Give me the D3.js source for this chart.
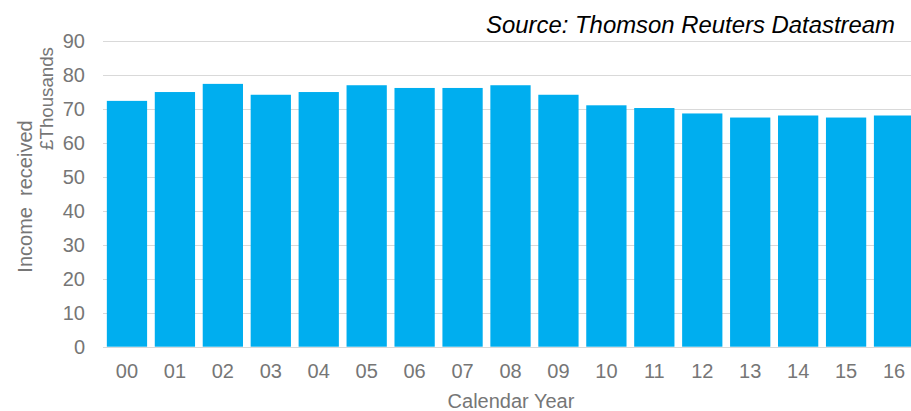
<!DOCTYPE html>
<html>
<head>
<meta charset="utf-8">
<script src="https://cdn.jsdelivr.net/npm/d3@7"></script>
<style>
  html, body { margin: 0; padding: 0; background: #fff; }
  svg { display: block; }
  text { font-family: "Liberation Sans", Arial, sans-serif; }
</style>
</head>
<body>
<svg id="chart" width="911" height="411"></svg>
<script>
// Annual income received (£ thousands), calendar years 2000–2016
const years = ["00","01","02","03","04","05","06","07","08","09","10","11","12","13","14","15","16"];
const income = [72.3, 74.9, 77.3, 74.1, 74.9, 76.9, 76.1, 76.1, 76.9, 74.1, 71.0, 70.2, 68.6, 67.4, 68.0, 67.4, 68.0];
const yTicks = [0, 10, 20, 30, 40, 50, 60, 70, 80, 90];

const svg = d3.select("#chart");
const margin = { left: 103, right: -7, top: 40.7, bottom: 64.3 };
const W = 911, H = 411;

const x = d3.scaleBand()
  .domain(years)
  .range([margin.left, W - margin.right])
  .paddingInner(0.16)
  .paddingOuter(0.08);

const y = d3.scaleLinear()
  .domain([0, 90])
  .range([H - margin.bottom, margin.top]);

// horizontal gridlines
svg.append("g")
  .selectAll("line")
  .data(yTicks)
  .join("line")
  .attr("x1", margin.left)
  .attr("x2", W)
  .attr("y1", d => Math.round(y(d)) + 0.5)
  .attr("y2", d => Math.round(y(d)) + 0.5)
  .attr("stroke", "#d9d9d9")
  .attr("stroke-width", 1);

// bars
svg.append("g")
  .selectAll("rect")
  .data(years.map((k, i) => ({ k, v: income[i] })))
  .join("rect")
  .attr("x", d => x(d.k))
  .attr("width", x.bandwidth())
  .attr("y", d => y(d.v))
  .attr("height", d => y(0) - y(d.v))
  .attr("fill", "#00aeef");

// y axis labels
const yAxis = d3.axisLeft(y).tickValues(yTicks).tickSize(0).tickPadding(18);
const gy = svg.append("g").attr("transform", `translate(${margin.left},0)`).call(yAxis);
gy.select(".domain").remove();
gy.selectAll("text")
  .attr("fill", "#767676")
  .attr("font-size", 20)
  .attr("font-family", "Liberation Sans, Arial, sans-serif");

// x axis labels
const xAxis = d3.axisBottom(x).tickSize(0).tickPadding(17);
const gx = svg.append("g").attr("transform", `translate(0,${y(0)})`).call(xAxis);
gx.select(".domain").remove();
gx.selectAll("text")
  .attr("fill", "#767676")
  .attr("font-size", 20)
  .attr("font-family", "Liberation Sans, Arial, sans-serif");

// x axis title
svg.append("text")
  .attr("x", 511)
  .attr("y", 408)
  .attr("text-anchor", "middle")
  .attr("font-size", 20)
  .attr("fill", "#767676")
  .text("Calendar Year");

// y axis title (two lines)
svg.append("text")
  .attr("transform", "translate(31.5,196.5) rotate(-90)")
  .attr("text-anchor", "middle")
  .attr("font-size", 20)
  .attr("fill", "#767676")
  .attr("xml:space", "preserve")
  .style("white-space", "pre")
  .text("Income  received");

svg.append("text")
  .attr("transform", "translate(53.3,98.5) rotate(-90)")
  .attr("text-anchor", "middle")
  .attr("font-size", 18.7)
  .attr("fill", "#767676")
  .text("£Thousands");

// source note
svg.append("text")
  .attr("x", 895)
  .attr("y", 33)
  .attr("text-anchor", "end")
  .attr("font-size", 23.9)
  .attr("font-style", "italic")
  .attr("fill", "#000")
  .text("Source: Thomson Reuters Datastream");
</script>
</body>
</html>
